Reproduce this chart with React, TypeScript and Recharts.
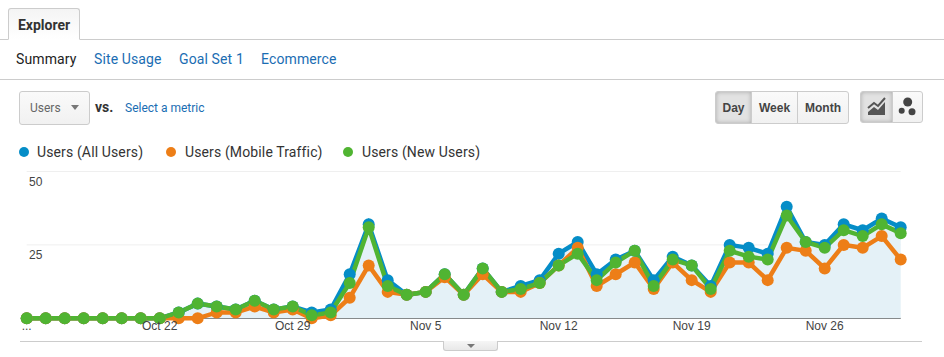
import { Area, CartesianGrid, ComposedChart, Line, XAxis, YAxis } from "recharts";

const dates = [
  "Oct 15", "Oct 16", "Oct 17", "Oct 18", "Oct 19", "Oct 20", "Oct 21", "Oct 22", "Oct 23", "Oct 24",
  "Oct 25", "Oct 26", "Oct 27", "Oct 28", "Oct 29", "Oct 30", "Oct 31", "Nov 1", "Nov 2", "Nov 3",
  "Nov 4", "Nov 5", "Nov 6", "Nov 7", "Nov 8", "Nov 9", "Nov 10", "Nov 11", "Nov 12", "Nov 13",
  "Nov 14", "Nov 15", "Nov 16", "Nov 17", "Nov 18", "Nov 19", "Nov 20", "Nov 21", "Nov 22", "Nov 23",
  "Nov 24", "Nov 25", "Nov 26", "Nov 27", "Nov 28", "Nov 29", "Nov 30",
];
const allUsers = [
  0, 0, 0, 0, 0, 0, 0, 0, 2, 5, 4, 3, 6, 3, 4, 2, 3, 15, 32, 13, 8, 9, 15, 8, 17, 9, 11, 13, 22, 26,
  15, 20, 23, 13, 21, 18, 11, 25, 24, 22, 38, 26, 25, 32, 30, 34, 31,
];
const mobileTraffic = [
  0, 0, 0, 0, 0, 0, 0, 0, 0, 0, 2, 2, 4, 2, 3, 0, 1, 7, 18, 9, 8, 9, 14, 8, 15, 9, 9, 12, 18, 24,
  11, 15, 19, 10, 19, 13, 9, 19, 19, 13, 24, 23, 17, 25, 24, 28, 20,
];
const newUsers = [
  0, 0, 0, 0, 0, 0, 0, 0, 2, 5, 4, 3, 6, 3, 4, 1, 2, 12, 31, 11, 8, 9, 15, 8, 17, 9, 10, 12, 18, 22,
  13, 19, 23, 11, 20, 18, 10, 23, 21, 20, 35, 26, 24, 30, 28, 32, 29,
];
const xTicks = ["Oct 15", "Oct 22", "Oct 29", "Nov 5", "Nov 12", "Nov 19", "Nov 26"];
const yTicks = [0, 25, 50];
const legendItems = [
  { label: "Users (All Users)", color: "#058dc7", dot: 23.5, text: 37 },
  { label: "Users (Mobile Traffic)", color: "#ed7e17", dot: 171, text: 185 },
  { label: "Users (New Users)", color: "#50b432", dot: 348, text: 362 },
];
const tabs = [
  { label: "Summary", x: 16, color: "#222" },
  { label: "Site Usage", x: 94, color: "#1a6db3" },
  { label: "Goal Set 1", x: 179, color: "#1a6db3" },
  { label: "Ecommerce", x: 261, color: "#1a6db3" },
];
const ranges = [
  { label: "Day", x: 715, w: 37, active: true, radius: "3px 0 0 3px" },
  { label: "Week", x: 751, w: 47, active: false, radius: "0" },
  { label: "Month", x: 797, w: 52, active: false, radius: "0 3px 3px 0" },
];

const rows = dates.map((date, i) => ({
  date,
  all: allUsers[i],
  mobile: mobileTraffic[i],
  fresh: newUsers[i],
}));

const UI = "Roboto, sans-serif";
const CHART = "'Liberation Sans', Arial, sans-serif";

function at(x: number, y: number, extra: React.CSSProperties = {}): React.CSSProperties {
  return { position: "absolute", left: x, top: y, whiteSpace: "nowrap", ...extra };
}

function YTick({ y, payload }: any) {
  if (payload.value === 0) return null;
  return (
    <text x={29} y={y + 14} fontSize={12} fontFamily={CHART} fill="#444">
      {payload.value}
    </text>
  );
}

function XTick({ x, y, payload }: any) {
  return (
    <text x={x} y={y + 4} textAnchor="middle" fontSize={12} fontFamily={CHART} fill="#444">
      {payload.value === "Oct 15" ? "..." : payload.value}
    </text>
  );
}

export default function App() {
  const dot = (color: string) => ({ r: 6, fill: color, stroke: color, strokeWidth: 0 });
  return (
    <div style={{ position: "absolute", left: 0, top: 0, width: 944, height: 357, background: "#fff", overflow: "hidden", fontFamily: UI }}>
      {/* header */}
      <div style={at(0, 39, { width: 944, height: 1, background: "#ccc" })} />
      <div
        style={at(8, 8, {
          width: 72,
          height: 32,
          boxSizing: "border-box",
          border: "1px solid #ccc",
          borderBottom: "1px solid #fff",
          borderRadius: "3px 3px 0 0",
          background: "linear-gradient(#f4f4f4, #fff)",
          fontSize: 14,
          fontWeight: 700,
          color: "#333",
          textAlign: "center",
          lineHeight: "32px",
        })}
      >
        Explorer
      </div>
      {tabs.map((t) => (
        <div key={t.label} style={at(t.x, 50, { fontSize: 14, lineHeight: "18px", color: t.color, letterSpacing: 0.12 })}>
          {t.label}
        </div>
      ))}
      <div style={at(0, 79, { width: 944, height: 1, background: "#ccc" })} />

      {/* metric picker */}
      <div
        style={at(19, 91, {
          width: 71,
          height: 34,
          boxSizing: "border-box",
          border: "1px solid #ccc",
          borderRadius: 3,
          background: "linear-gradient(#fafafa, #f1f1f1)",
        })}
      />
      <div style={at(30, 100, { fontSize: 12, lineHeight: "16px", color: "#666" })}>Users</div>
      <div style={at(71, 105, { width: 0, height: 0, borderLeft: "4px solid transparent", borderRight: "4px solid transparent", borderTop: "5px solid #777" })} />
      <div style={at(95, 99, { fontSize: 14, lineHeight: "16px", fontWeight: 700, color: "#333" })}>vs.</div>
      <div style={at(125, 100, { fontSize: 12, lineHeight: "16px", color: "#1a6db3" })}>Select a metric</div>

      {/* day week month */}
      {ranges.map((r) => (
        <div
          key={r.label}
          style={at(r.x, 91, {
            width: r.w,
            height: 33,
            boxSizing: "border-box",
            border: "1px solid #ccc",
            borderRadius: r.radius,
            background: r.active ? "#e2e2e2" : "linear-gradient(#fafafa, #f1f1f1)",
            boxShadow: r.active ? "inset 0 0 4px #aaa" : "none",
            fontFamily: CHART,
            fontSize: 12,
            fontWeight: 700,
            color: "#444",
            textAlign: "center",
            lineHeight: "33px",
          })}
        >
          {r.label}
        </div>
      ))}

      {/* chart type buttons */}
      <div style={at(860, 91, { width: 33, height: 32, boxSizing: "border-box", border: "1px solid #ccc", borderRadius: "3px 0 0 3px", background: "#e2e2e2", boxShadow: "inset 0 0 4px #aaa" })} />
      <div style={at(892, 91, { width: 31, height: 32, boxSizing: "border-box", border: "1px solid #ccc", borderRadius: "0 3px 3px 0", background: "linear-gradient(#fafafa, #f1f1f1)" })} />
      <svg style={at(860, 91)} width={64} height={32}>
        <path d="M8 17 L14 12 L18 15 L25 7" fill="none" stroke="#555" strokeWidth={2} />
        <path d="M8 24 L8 21 L14 16 L18 19 L25 11 L25 24 Z" fill="#555" />
        <circle cx={47.7} cy={11} r={4.5} fill="#444" />
        <circle cx={41.7} cy={19.7} r={3} fill="#444" />
        <circle cx={52} cy={20.7} r={3.5} fill="#444" />
      </svg>

      {/* legend */}
      {legendItems.map((l) => (
        <div key={l.label}>
          <div style={at(l.dot - 5, 147, { width: 10, height: 10, borderRadius: "50%", background: l.color })} />
          <div style={at(l.text, 143, { fontSize: 14, lineHeight: "18px", color: "#333", letterSpacing: 0.13 })}>{l.label}</div>
        </div>
      ))}

      {/* chart */}
      <div style={at(0, 0)}>
        <ComposedChart width={944} height={357} data={rows} margin={{ top: 171.5, right: 43.3, bottom: 0, left: 26.7 }}>
          <CartesianGrid horizontal vertical={false} stroke="#efefef" />
          <CartesianGrid horizontal vertical={false} horizontalValues={[0]} stroke="#444" />
          <XAxis dataKey="date" ticks={xTicks} interval={0} height={38.7} tick={<XTick />} tickLine={false} axisLine={false} />
          <YAxis mirror width={60} domain={[0, 50]} ticks={yTicks} tick={<YTick />} tickLine={false} axisLine={false} />
          <Area dataKey="all" stroke="#058dc7" strokeWidth={4.5} fill="#e4f1f7" fillOpacity={1} dot={dot("#058dc7")} activeDot={false} isAnimationActive={false} />
          <Line dataKey="mobile" stroke="#ed7e17" strokeWidth={4.5} dot={dot("#ed7e17")} activeDot={false} isAnimationActive={false} />
          <Line dataKey="fresh" stroke="#50b432" strokeWidth={4.5} dot={dot("#50b432")} activeDot={false} isAnimationActive={false} />
        </ComposedChart>
      </div>

      {/* bottom rule and handle */}
      <div style={at(20, 341, { width: 902, height: 1, background: "#ccc" })} />
      <div style={at(443, 341, { width: 55, height: 10, boxSizing: "border-box", border: "1px solid #ccc", borderTop: "none", borderRadius: "0 0 3px 3px", background: "linear-gradient(#f6f6f6, #e8e8e8)" })} />
      <div style={at(467, 344, { width: 0, height: 0, borderLeft: "4px solid transparent", borderRight: "4px solid transparent", borderTop: "4px solid #777" })} />
    </div>
  );
}
